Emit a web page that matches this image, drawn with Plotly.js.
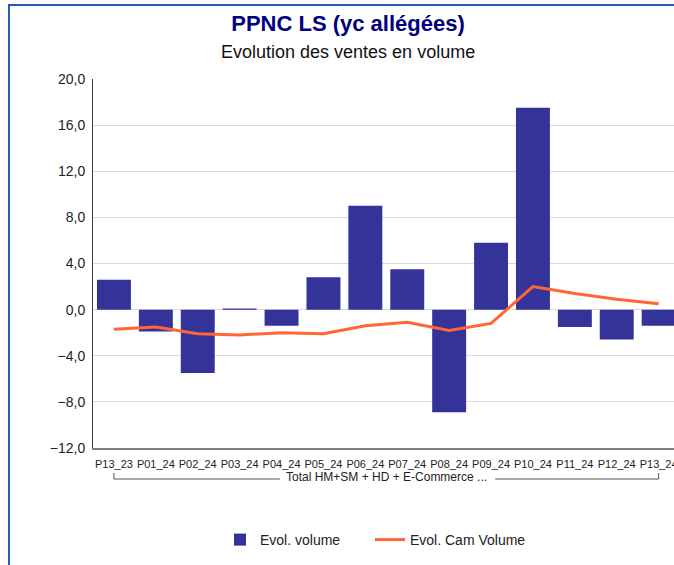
<!DOCTYPE html>
<html>
<head>
<meta charset="utf-8">
<script src="https://cdn.plot.ly/plotly-3.0.1.min.js"></script>
<style>html,body{margin:0;padding:0;background:#fff;}#chart{width:674px;height:565px;}</style>
</head>
<body>
<div id="chart"></div>
<script>
const categories = ['P13_23','P01_24','P02_24','P03_24','P04_24','P05_24','P06_24','P07_24','P08_24','P09_24','P10_24','P11_24','P12_24','P13_24'];
const evolVolume = [2.6,-1.9,-5.5,0.1,-1.4,2.8,9.0,3.5,-8.9,5.8,17.5,-1.5,-2.6,-1.4];
const evolCamVolume = [-1.7,-1.5,-2.1,-2.2,-2.0,-2.1,-1.4,-1.1,-1.8,-1.2,2.0,1.4,0.9,0.5];
const yTickValues = [-12,-8,-4,0,4,8,12,16,20];
const seriesNames = ['Evol. volume','Evol. Cam Volume'];
const groupLabel = 'Total HM+SM + HD + E-Commerce ...';
const titleText = 'PPNC LS (yc allégées)';
const subtitleText = 'Evolution des ventes en volume';

const FONT = 'Liberation Sans, Arial, sans-serif';
const last = categories.length - 1;

const traces = [
  {type:'bar', x:categories, y:evolVolume, name:seriesNames[0],
   marker:{color:'#333399'}, hoverinfo:'skip', legend:'legend'},
  {type:'scatter', mode:'lines', x:categories, y:evolCamVolume, name:seriesNames[1],
   line:{color:'#ff6633', width:3}, hoverinfo:'skip', legend:'legend2'}
];

const frameBlue = '#1f5fb4';
const px2py = p => (448 - p) / 369;
const px2px = p => (p - 93) / 581;
const legendFont = {family:FONT, size:14, color:'#222'};
const layout = {
  width:674, height:565, autosize:false,
  margin:{l:93, r:0, t:79, b:117, pad:0},
  paper_bgcolor:'#ffffff', plot_bgcolor:'#ffffff',
  font:{family:FONT, color:'#222222'},
  separators:', ',
  bargap:0.19,
  showlegend:true,
  title:{text:titleText, font:{family:FONT, size:22, color:'#000080', weight:'bold'},
         xref:'container', x:348/674, xanchor:'center', yref:'container', y:1-23/565, yanchor:'middle'},
  xaxis:{type:'category', range:[-0.5, -0.5 + 581/41.9], fixedrange:true,
         showgrid:false, zeroline:false, showline:true, linecolor:'#808080', linewidth:2,
         ticks:'', tickangle:0, ticklabelstandoff:5, tickfont:{family:FONT, size:11, color:'#222'}},
  yaxis:{range:[-12,20], tickvals:yTickValues, tickformat:'.1f', fixedrange:true,
         showgrid:true, gridcolor:'#d9d9d9', gridwidth:1, zeroline:false,
         showline:true, linecolor:'#404040', linewidth:1, ticks:'', ticklabelstandoff:4,
         tickfont:{family:FONT, size:14, color:'#222'}},
  legend:{orientation:'h', x:px2px(220), xanchor:'left', y:px2py(540), yanchor:'middle',
          font:legendFont, bgcolor:'rgba(0,0,0,0)'},
  legend2:{orientation:'h', x:px2px(370), xanchor:'left', y:px2py(540), yanchor:'middle',
          font:legendFont, bgcolor:'rgba(0,0,0,0)'},
  annotations:[
    {text:subtitleText, xref:'paper', yref:'paper', x:px2px(348), y:px2py(52),
     xanchor:'center', yanchor:'middle', showarrow:false, font:{family:FONT, size:18, color:'#111'}},
    {text:groupLabel, xref:'x', yref:'paper', x:last/2, y:px2py(477),
     xanchor:'center', yanchor:'middle', showarrow:false, font:{family:FONT, size:12, color:'#222'}}
  ],
  shapes:[
    {type:'line', xref:'x', yref:'paper', x0:0, x1:3.96, y0:px2py(479), y1:px2py(479), line:{color:'#555', width:1}},
    {type:'line', xref:'x', yref:'paper', x0:9.1, x1:last, y0:px2py(479), y1:px2py(479), line:{color:'#555', width:1}},
    {type:'line', xref:'x', yref:'paper', x0:0, x1:0, y0:px2py(479), y1:px2py(473), line:{color:'#555', width:1}},
    {type:'line', xref:'x', yref:'paper', x0:last, x1:last, y0:px2py(479), y1:px2py(473), line:{color:'#555', width:1}},
    {type:'line', xref:'paper', yref:'paper', x0:px2px(9), x1:px2px(9), y0:px2py(5), y1:px2py(566), line:{color:frameBlue, width:2}},
    {type:'line', xref:'paper', yref:'paper', x0:px2px(8), x1:1.01, y0:px2py(5), y1:px2py(5), line:{color:frameBlue, width:2}}
  ]
};

Plotly.newPlot('chart', traces, layout, {displayModeBar:false, staticPlot:true});
</script>
</body>
</html>
